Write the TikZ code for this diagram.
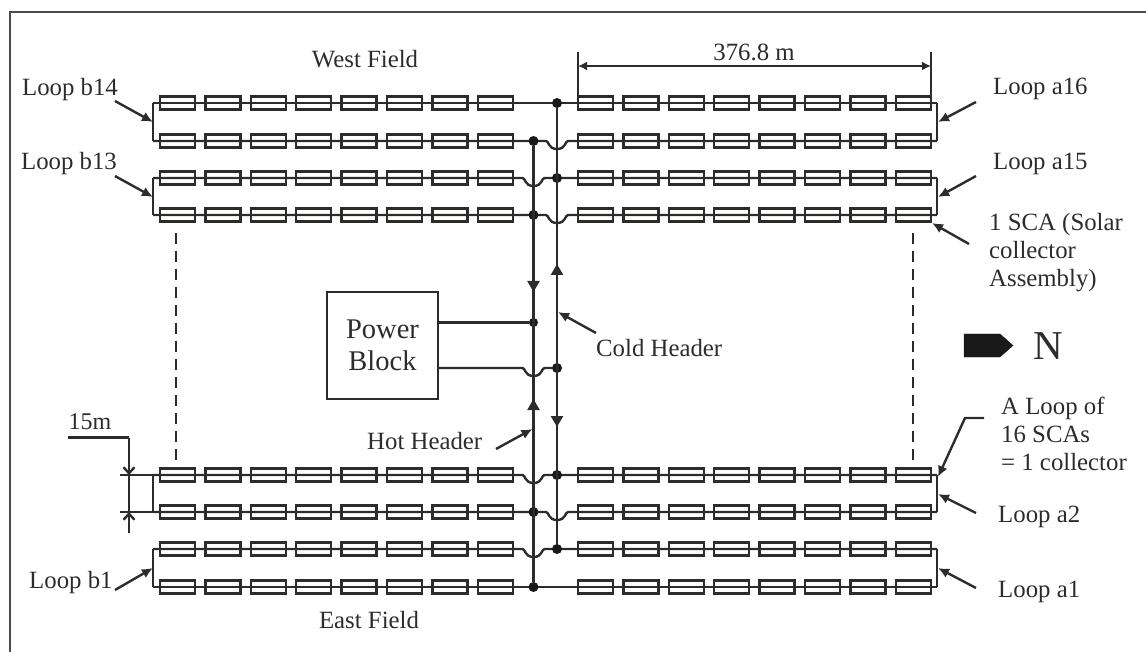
\documentclass[tikz,border=0pt]{standalone}
\usepackage{fontspec}
\setmainfont{Liberation Serif}
\usetikzlibrary{positioning, arrows.meta}
\definecolor{inkdark}{HTML}{2E2C2B}

\begin{document}
\begin{tikzpicture}[x=1pt, y=-1pt, line join=miter]
    % Definitions
    \def\hotX{533.5}
    \def\coldX{557}
    \def\loopL{153}
    \def\loopR{937}
    \def\scaW{35}
    \def\scaH{13}
    \def\scaStep{45.4}

    % Styles
    \tikzstyle{pipe} = [draw=inkdark, line width=2.4pt]
    \tikzstyle{sca} = [draw=inkdark, line width=2.4pt]
    \tikzstyle{dot} = [circle, fill=black!90, inner sep=0pt, minimum size=10pt]
    \tikzstyle{lbl} = [text=inkdark, inner sep=0pt, font=\fontsize{24.8}{28}\selectfont, align=left]
    \tikzstyle{ptr} = [draw=inkdark, line width=2.4pt, -{Latex[length=11pt, width=10pt]}]
    \tikzstyle{flow} = [draw=inkdark, line width=2.4pt, -{Triangle[length=11pt, width=12pt]}]
    \tikzstyle{gap} = [draw=inkdark, line width=2.4pt, -{Straight Barb[length=6pt, width=11pt]}]

    \useasboundingbox (0,0) rectangle (1146,652);

    % Frame
    \draw[draw=black!70, line width=1.8pt] (10,652) -- (10,12) -- (1146,12);

    % Collector rows
    \foreach \y in {103,141,178,215,475,512,549,587} {
        \foreach \i in {0,...,7} {
            \draw[sca] (160+\i*\scaStep, \y-\scaH/2) rectangle ++(\scaW, \scaH);
            \draw[sca] (578+\i*\scaStep, \y-\scaH/2) rectangle ++(\scaW, \scaH);
        }
    }

    % Row lines, jumping under the header they do not join
    \foreach \y in {103,587} {
        \draw[pipe] (\loopL,\y) -- (\loopR,\y);
    }
    \foreach \y in {178,475,549} {
        \draw[pipe] (\loopL,\y) -- (\hotX-11,\y)
            .. controls (\hotX-8,\y) and (\hotX-9,\y+8) .. (\hotX,\y+8)
            .. controls (\hotX+9,\y+8) and (\hotX+8,\y) .. (\hotX+11,\y) -- (\loopR,\y);
        \node[dot] (cold\y) at (\coldX,\y) {};
    }
    \foreach \y in {141,215,512} {
        \draw[pipe] (\loopL,\y) -- (\coldX-11,\y)
            .. controls (\coldX-8,\y) and (\coldX-9,\y+8) .. (\coldX,\y+8)
            .. controls (\coldX+9,\y+8) and (\coldX+8,\y) .. (\coldX+11,\y) -- (\loopR,\y);
        \node[dot] (hot\y) at (\hotX,\y) {};
    }
    \node[dot] (cold103) at (\coldX,103) {};
    \node[dot] (hot587) at (\hotX,587) {};

    % Loop ends
    \foreach \ya/\yb in {103/141,178/215,475/512,549/587} {
        \draw[pipe] (\loopL,\ya) -- (\loopL,\yb);
        \draw[pipe] (\loopR,\ya) -- (\loopR,\yb);
    }

    % Power block and headers
    \node[draw=inkdark, line width=2.2pt, minimum width=111pt, minimum height=107pt, inner sep=0pt,
          text=inkdark, align=center, font=\fontsize{28.5}{32}\selectfont] (block) at (382.5,345.5) {Power\\Block};
    \node[dot, minimum size=9pt] (hotin) at (\hotX,322.5) {};
    \node[dot] (coldout) at (\coldX,368) {};
    \draw[pipe] (hot141) -- (hot587);
    \draw[pipe] (cold103) -- (cold549);
    \draw[pipe] (block.east |- hotin) -- (hotin);
    \draw[pipe] (block.east |- coldout) -- (\hotX-11,368)
        .. controls (\hotX-8,368) and (\hotX-9,376) .. (\hotX,376)
        .. controls (\hotX+9,376) and (\hotX+8,368) .. (\hotX+11,368) -- (coldout);

    % Flow direction
    \draw[flow] (\hotX,270) -- (\hotX,292);
    \draw[flow] (\hotX,420) -- (\hotX,399);
    \draw[flow] (\coldX,285) -- (\coldX,264);
    \draw[flow] (\coldX,405) -- (\coldX,427);

    % Open ends of the field
    \draw[pipe, dash pattern=on 11pt off 7pt] (176,233) -- (176,460);
    \draw[pipe, dash pattern=on 11pt off 7pt] (913,233) -- (913,460);

    % Length of the loop half
    \draw[pipe] (578,52) -- (578,103);
    \draw[pipe] (931,52) -- (931,97);
    \draw[pipe, {Latex[length=9pt, width=9pt]}-{Latex[length=9pt, width=9pt]}] (578,66) -- (931,66);
    \node[lbl] (length) at (754,52) {376.8 m};

    % Row spacing
    \draw[pipe] (120,475) -- (\loopL,475);
    \draw[pipe] (120,512) -- (\loopL,512);
    \draw[pipe] (129,475) -- (129,512);
    \node[lbl, font=\fontsize{24}{28}\selectfont] (spacing) at (90,422) {15m};
    \coordinate (spacingL) at (68,437.5);
    \coordinate (spacingC) at (129,437.5);
    \coordinate (spacingA) at (129,475);
    \coordinate (spacingB) at (129,533);
    \coordinate (spacingD) at (129,512);
    \draw[pipe] (spacingL) -- (spacingC);
    \draw[gap] (spacingC) -- (spacingA);
    \draw[gap] (spacingB) -- (spacingD);

    % Labels
    \node[lbl] (west) at (365,59) {West Field};
    \node[lbl] (east) at (369,620) {East Field};
    \node[lbl] (b14) at (70,90) {Loop b14};
    \node[lbl] (b13) at (69,164) {Loop b13};
    \node[lbl, anchor=west] (b1) at (29,583) {Loop b1};
    \node[lbl, anchor=west] (a16) at (993,89) {Loop a16};
    \node[lbl, anchor=west] (a15) at (993,164) {Loop a15};
    \node[lbl, anchor=west] (onesca) at (989,253) {1 SCA (Solar\\collector\\Assembly)};
    \node[lbl, anchor=west] (aloop) at (1001,434) {A Loop of\\16 SCAs\\= 1 collector};
    \node[lbl, anchor=west] (a2) at (998,517) {Loop a2};
    \node[lbl, anchor=west] (a1) at (998,592) {Loop a1};
    \node[lbl, anchor=west] (coldlbl) at (596,348) {Cold Header};
    \node[lbl, anchor=west] (hotlbl) at (367,441) {Hot Header};

    % Pointers
    \draw[ptr] (115,101) -- (\loopL,122);
    \draw[ptr] (115,176) -- (\loopL,197);
    \draw[ptr] (115,590) -- (\loopL,568);
    \draw[ptr] (976,102) -- (\loopR+1,122);
    \draw[ptr] (976,176) -- (\loopR+1,197);
    \draw[ptr] (969,244) -- (932,223);
    \draw[ptr] (976,513) -- (\loopR+1,494);
    \draw[ptr] (976,588) -- (\loopR+1,568);
    \draw[ptr] (984,418) -- (965,418) -- (\loopR+1,477);
    \draw[ptr] (496,449) -- (\hotX-1,429);
    \draw[ptr] (596,333) -- (\coldX+1,312);

    % North mark
    \draw[fill=black!90, draw=black!90] (964,334) -- (1000,334) -- (1013,345.5) -- (1000,357) -- (964,357) -- cycle;
    \node[lbl, font=\fontsize{41}{44}\selectfont] (north) at (1048,346) {N};
\end{tikzpicture}
\end{document}
